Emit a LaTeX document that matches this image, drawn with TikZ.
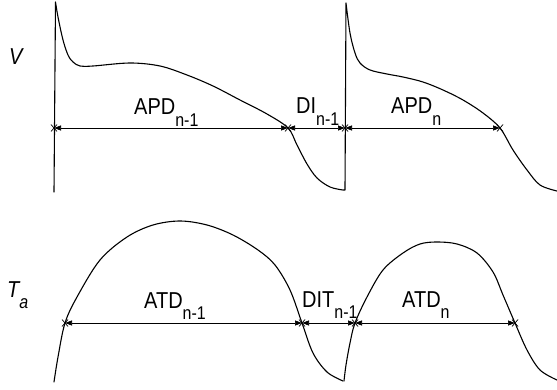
\documentclass[tikz,border=0pt]{standalone}
\usepackage{fontspec}
\setmainfont{Liberation Sans}
\usetikzlibrary{arrows.meta}
\begin{document}
\begin{tikzpicture}[x=1pt,y=-1pt,
  trace/.style={line width=1.1pt,line join=round,line cap=round},
  meas/.style={line width=0.7pt,{Triangle[length=7pt,width=5pt]}-{Triangle[length=7pt,width=5pt]}},
  lab/.style={anchor=base west,inner sep=0pt,font=\fontsize{20}{20}\selectfont},
  axlab/.style={anchor=base west,inner sep=0pt,font=\fontsize{20}{20}\selectfont\itshape},
  xmark/.style={line width=0.7pt}]
\useasboundingbox (0,0) rectangle (557,390);
\newcommand{\sub}[1]{\raisebox{-10pt}{\fontsize{16}{16}\selectfont #1}}
\newcommand{\tall}[1]{\scalebox{1}[1.15]{#1}}
\newcommand{\xm}[1]{\draw[xmark] ([shift={(-3,-3.5)}]#1) -- ([shift={(3,3.5)}]#1) ([shift={(-3,3.5)}]#1) -- ([shift={(3,-3.5)}]#1);}
% --- V trace ---
\draw[trace] (54,192) -- (55.5,2)
  plot[smooth,tension=0.55] coordinates {(55.5,2) (58,17) (63,40) (68,55) (73,62) (80,66) (93,66) (130,63) (160,66) (187,75) (213,86) (240,100) (267,114) (288,128) (297,145) (307,164) (317,178) (330,187) (343,190)}
  -- (345,190) -- (346,3)
  plot[smooth,tension=0.55] coordinates {(346,3) (350,33) (355,53) (360,63) (370,70) (387,74) (403,77) (423,82) (443,90) (463,100) (483,113) (500,128) (513,150) (527,170) (540,185) (557,191)};
% --- Ta trace ---
\draw[trace] plot[smooth,tension=0.55] coordinates {(54,382) (58,357) (65,323) (77,297) (100,260) (127,237) (153,225) (180,221) (207,225) (233,235) (258,250) (275,265) (290,290) (302,323) (313,353) (327,372) (343,381)};
\draw[trace] plot[smooth,tension=0.55] coordinates {(344,381) (346,365) (350,343) (355,323) (367,297) (383,270) (403,253) (420,244) (437,242) (457,244) (477,253) (493,272) (503,295) (515,323) (527,350) (540,370) (557,380)};
% --- marks top ---
\coordinate (a1) at (54,128);
\coordinate (a2) at (288,128);
\coordinate (a3) at (345,128);
\coordinate (a4) at (500,128);
\draw[meas] (a1) -- (a2);
\draw[meas] (a2) -- (a3);
\draw[meas] (a3) -- (a4);
\xm{a1}\xm{a2}\xm{a3}\xm{a4}
% --- marks bottom ---
\coordinate (b1) at (65,323);
\coordinate (b2) at (302,323);
\coordinate (b3) at (355,323);
\coordinate (b4) at (515,323);
\draw[meas] (b1) -- (b2);
\draw[meas] (b2) -- (b3);
\draw[meas] (b3) -- (b4);
\xm{b1}\xm{b2}\xm{b3}\xm{b4}
% --- labels ---
\node[axlab] (lv) at (9,65) {\tall{V}};
\node[axlab] (lt) at (7,297) {\tall{T\sub{a}}};
\node[lab] (l1) at (134,115) {\tall{APD\sub{n-1}}};
\node[lab] (l2) at (296,114) {\tall{DI\sub{n-1}}};
\node[lab] (l3) at (391,114) {\tall{APD\sub{n}}};
\node[lab] (l4) at (144,308) {\tall{ATD\sub{n-1}}};
\node[lab] (l5) at (302,307) {\tall{DIT\sub{n-1}}};
\node[lab] (l6) at (402,307) {\tall{ATD\sub{n}}};
\end{tikzpicture}
\end{document}
